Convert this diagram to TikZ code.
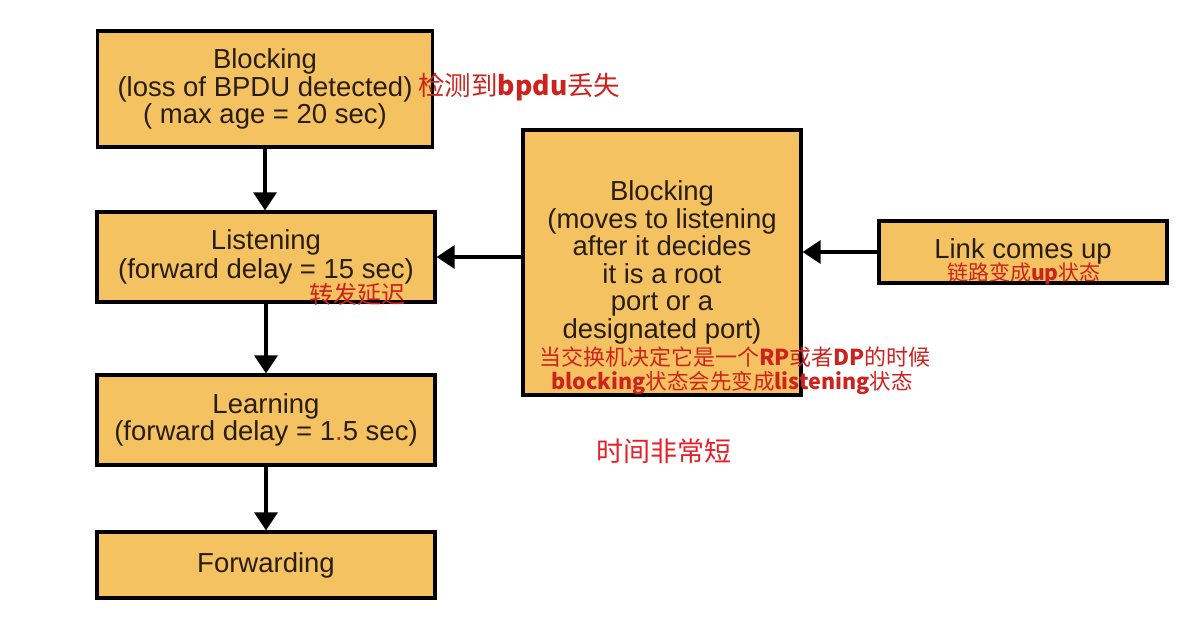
\documentclass[tikz,border=0pt]{standalone}
\usepackage{fontspec}
\setmainfont{Liberation Sans}
\newfontfamily\cjk{Noto Sans CJK SC}
\usetikzlibrary{arrows.meta}
\definecolor{boxfill}{RGB}{245,194,98}
\definecolor{boxtext}{RGB}{40,30,20}
\definecolor{annotred}{RGB}{205,35,30}
\definecolor{notered}{RGB}{232,30,40}
\begin{document}
\begin{tikzpicture}[x=1pt,y=-1pt,
  box/.style={draw=black, line width=3.2pt, fill=boxfill, inner sep=0pt, align=center,
    text=boxtext, font=\fontsize{27.5}{27.5}\selectfont},
  flow/.style={line width=3.4pt, -{Triangle[length=18pt,width=23pt]}},
  annot/.style={text=annotred, inner sep=0pt},
]
\useasboundingbox (0,0) rectangle (1187,626);
\fill[white] (0,0) rectangle (1187,626);

% left column
\node[box, minimum width=335pt, minimum height=116pt] (blk1) at (265,89)
  {Blocking\\(loss of BPDU detected)\\( max age = 20 sec)};
\node[box, minimum width=338pt, minimum height=90pt] (lis) at (266,257)
  {\raisebox{2pt}{\shortstack{Listening\\[1pt](forward delay = 15 sec)}}};
\node[box, minimum width=338pt, minimum height=90pt] (lrn) at (266,420)
  {Learning\\(forward delay = 1{\color{annotred}.}5 sec)};
\node[box, minimum width=338pt, minimum height=66pt] (fwd) at (266,565)
  {Forwarding};

% middle and right
\node[box, minimum width=278pt, minimum height=265pt] (blk2) at (662,262.5)
  {Blocking\\(moves to listening\\after it decides\\it is a root\\port or a\\designated port)};
\node[box, minimum width=288pt, minimum height=62pt] (link) at (1023,252)
  {\raisebox{7pt}{Link comes up}};

% connectors
\draw[flow] (blk1.south) -- (blk1.south |- lis.north);
\draw[flow] (lis.south) -- (lrn.north);
\draw[flow] (lrn.south) -- (fwd.north);
\draw[flow] (blk2.west |- lis.east) -- (lis.east);
\draw[flow] (link.west) -- (link.west -| blk2.east);

% annotations
\node[annot, anchor=west, font=\cjk\fontsize{26.5}{28}\selectfont] (a1) at (418,87)
  {检测到\textbf{bpdu}丢失};
\node[annot, font=\cjk\fontsize{24}{28}\selectfont] (a2) at (357,294) {转发延迟};
\node[annot, font=\cjk\fontsize{22}{26}\selectfont] (a3) at (735,357)
  {当交换机决定它是一个\textbf{RP}或者\textbf{DP}的时候};
\node[annot, font=\cjk\fontsize{21.5}{26}\selectfont] (a4) at (732,383)
  {\textbf{blocking}状态会先变成\textbf{listening}状态};
\node[annot, font=\cjk\fontsize{21}{26}\selectfont] (a5) at (1024,274)
  {链路变成\textbf{up}状态};
\node[text=notered, inner sep=0pt, font=\cjk\fontsize{27}{30}\selectfont] (a6) at (664,451)
  {时间非常短};
\end{tikzpicture}
\end{document}
